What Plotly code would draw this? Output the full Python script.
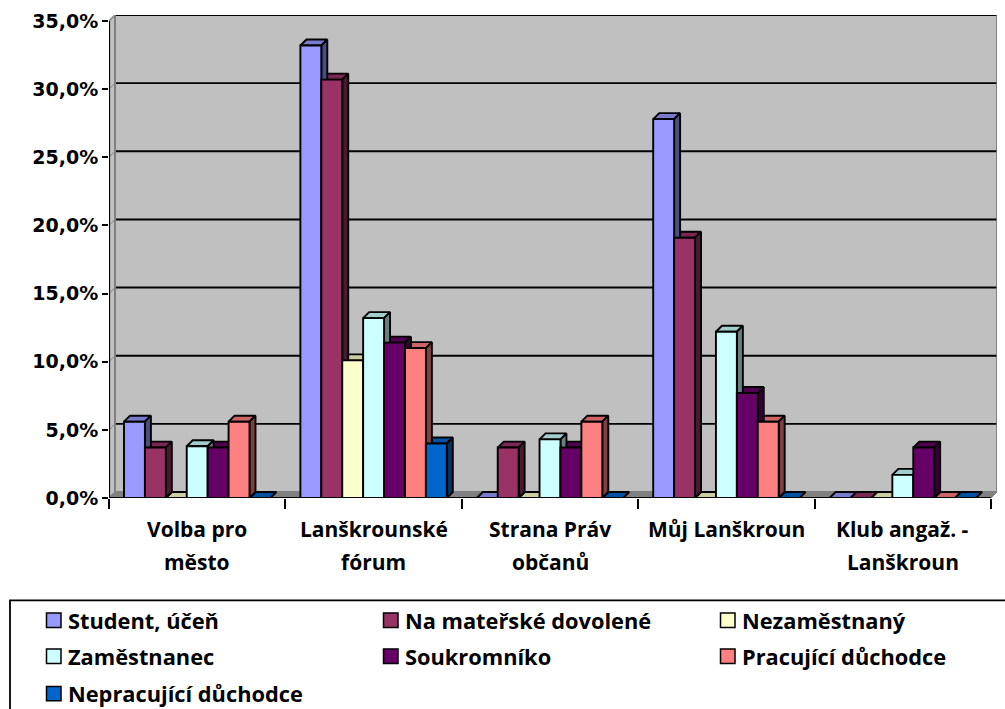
import plotly.graph_objects as go

# ---- data ----
categories = [("Volba pro", "město"), ("Lanškrounské", "fórum"), ("Strana Práv", "občanů"),
              ("Můj Lanškroun", ""), ("Klub angaž. -", "Lanškroun")]
y_ticks = [0, 5, 10, 15, 20, 25, 30, 35]
y_tick_labels = ["0,0%", "5,0%", "10,0%", "15,0%", "20,0%", "25,0%", "30,0%", "35,0%"]

student = [5.6, 33.2, 0, 27.8, 0]
materska = [3.7, 30.7, 3.7, 19.1, 0]
nezamestnany = [0, 10.1, 0, 0, 0]
zamestnanec = [3.8, 13.2, 4.3, 12.2, 1.7]
soukromnik = [3.7, 11.4, 3.7, 7.7, 3.7]
prac_duchodce = [5.6, 11.0, 5.6, 5.6, 0]
neprac_duchodce = [0, 4.0, 0, 0, 0]

series_names = ["Student, účeň", "Na mateřské dovolené", "Nezaměstnaný", "Zaměstnanec",
                "Soukromníko", "Pracující důchodce", "Nepracující důchodce"]
series_values = [student, materska, nezamestnany, zamestnanec, soukromnik, prac_duchodce, neprac_duchodce]
series_colors = ["#9999FF", "#993366", "#FFFFCC", "#CCFFFF", "#660066", "#FF8080", "#0066CC"]

# ---- geometry (pixels of the 1005x709 page) ----
W, H = 1005, 709
X0, X5 = 109.0, 991.0
Y0, Y35 = 498.0, 20.7
DEPTH = 6.0
px_per_cat = (X5 - X0) / 5
px_per_val = (Y0 - Y35) / 35
DX = DEPTH / px_per_cat
DY = DEPTH / px_per_val
XMAX, YMAX = 5 + DX, 35 + DY
BARGAP = 0.17
BAR_W = (1 - BARGAP) / 7
FONT = "Open Sans"
BLK = "#000000"


def shade(hex_color, f):
    r, g, b = (int(hex_color[i:i + 2], 16) for i in (1, 3, 5))
    return "#%02X%02X%02X" % (int(r * f), int(g * f), int(b * f))


def poly(xs, ys, fill, line=BLK, lw=1.9):
    return go.Scatter(x=xs, y=ys, mode="lines", fill="toself", fillcolor=fill,
                      line=dict(color=line, width=lw), hoverinfo="skip", showlegend=False,
                      xaxis="x", yaxis="y")


def seg(xs, ys, color=BLK, lw=1.9):
    return go.Scatter(x=xs, y=ys, mode="lines", line=dict(color=color, width=lw),
                      hoverinfo="skip", showlegend=False, xaxis="x", yaxis="y")


fig = go.Figure()

# walls and floor
fig.add_trace(poly([DX, XMAX, XMAX, DX, DX], [DY, DY, YMAX, YMAX, DY], "#C0C0C0", "#808080", 2))
fig.add_trace(poly([0, DX, DX, 0, 0], [0, DY, YMAX, 35, 0], "#C0C0C0", "#808080", 1.5))
fig.add_trace(poly([0, 5, XMAX, DX, 0], [0, 0, DY, DY, 0], "#808080", "#808080", 1))

# gridlines on the back wall
for v in y_ticks[1:]:
    fig.add_trace(seg([DX, XMAX - 0.004], [v + DY, v + DY], BLK, 1.9))
    fig.add_trace(seg([0, DX], [v, v + DY], "#808080", 1))
fig.add_trace(seg([DX, DX], [DY, YMAX], "#808080", 2))

# top and side faces: lower bars first so taller neighbours paint over them
faces = []
for s, vals in enumerate(series_values):
    for c, v in enumerate(vals):
        faces.append((c, v, s))
for c, v, s in sorted(faces, key=lambda t: (t[0], t[1])):
    color = series_colors[s]
    xl = c + BARGAP / 2 + s * BAR_W
    xr = xl + BAR_W
    fig.add_trace(poly([xl, xr, xr + DX, xl + DX, xl], [v, v, v + DY, v + DY, v], shade(color, 0.8)))
    if v > 0:
        fig.add_trace(poly([xr, xr + DX, xr + DX, xr, xr], [0, DY, v + DY, v, 0], shade(color, 0.5)))

# axis lines
fig.add_trace(seg([0, 0], [0, 35], BLK, 2.2))
fig.add_trace(seg([0, 5], [0, 0], BLK, 2.2))

# bar fronts
centers = [c + 0.5 for c in range(len(categories))]
for name, vals, color in zip(series_names, series_values, series_colors):
    fig.add_trace(go.Bar(x=centers, y=vals, name=name, marker=dict(color=color, line=dict(color=BLK, width=1.9)),
                         xaxis="x2", yaxis="y2", showlegend=False))

# paper coordinates from page pixels
def pxx(x):
    return (x - X0) / (XMAX * px_per_cat)


def pxy(y):
    return (Y0 - y) / (YMAX * px_per_val)


annotations = []
for c, lines in zip(centers, categories):
    for line, ypix in zip(lines, (529, 562)):
        if line:
            annotations.append(dict(x=c, y=pxy(ypix), xref="x", yref="paper", text="<b>%s</b>" % line,
                                    showarrow=False, xanchor="center", yanchor="middle",
                                    font=dict(family=FONT, size=21, color="#000")))

shapes = [dict(type="rect", xref="paper", yref="paper", x0=pxx(10), x1=pxx(1015), y0=pxy(600.5), y1=pxy(720),
               line=dict(color="#000", width=1.8), fillcolor="rgba(0,0,0,0)")]
leg_x = [46, 383, 720]
leg_y = [620.5, 656.5, 694]
for i, (name, color) in enumerate(zip(series_names, series_colors)):
    x, y = leg_x[i % 3], leg_y[i // 3]
    shapes.append(dict(type="rect", xref="paper", yref="paper", x0=pxx(x + 0.5), x1=pxx(x + 15), y0=pxy(y - 7.5), y1=pxy(y + 7),
                       line=dict(color="#000", width=1.5), fillcolor=color))
    annotations.append(dict(x=pxx(x + 22), y=pxy(y), xref="paper", yref="paper", text="<b>%s</b>" % name,
                            showarrow=False, xanchor="left", yanchor="middle", xshift=-2,
                            font=dict(family=FONT, size=21.8, color="#000")))

fig.update_layout(
    width=W, height=H, autosize=False, paper_bgcolor="white", plot_bgcolor="white",
    margin=dict(l=X0, r=W - (X0 + XMAX * px_per_cat), t=Y0 - YMAX * px_per_val, b=H - Y0, pad=0, autoexpand=False),
    barmode="group", bargap=BARGAP, bargroupgap=0, showlegend=False,
    xaxis=dict(range=[0, XMAX], showgrid=False, zeroline=False, showline=False, tickmode="array",
               tickvals=list(range(6)), ticktext=[""] * 6, ticks="outside", ticklen=10, tickwidth=2, tickcolor="#000"),
    yaxis=dict(range=[0, YMAX], showgrid=False, zeroline=False, showline=False, tickmode="array",
               tickvals=y_ticks, ticktext=["<b>%s</b>" % t for t in y_tick_labels], ticks="outside", ticklen=6,
               tickwidth=2, tickcolor="#000", tickfont=dict(family="DejaVu Sans", size=19, color="#000")),
    xaxis2=dict(range=[0, XMAX], overlaying="x", visible=False, anchor="y2"),
    yaxis2=dict(range=[0, YMAX], overlaying="y", visible=False, anchor="x2"),
    annotations=annotations, shapes=shapes,
)
fig.write_html("out.html", post_script="document.body.style.margin='0';document.body.style.overflow='hidden';",
               config=dict(displayModeBar=False))
